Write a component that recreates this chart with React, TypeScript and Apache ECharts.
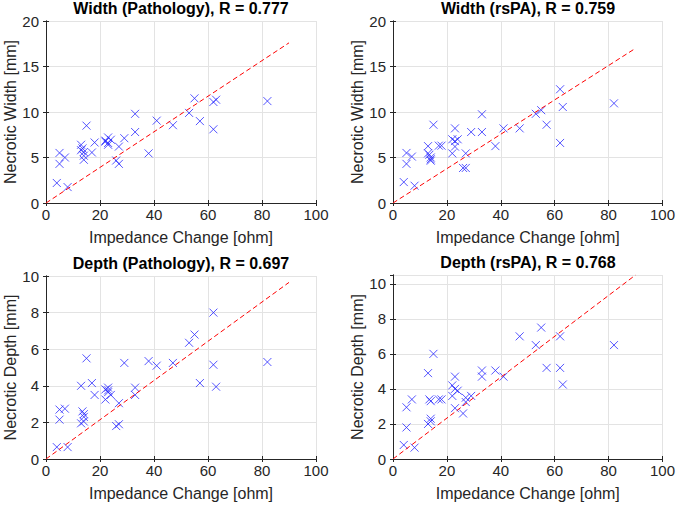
import React, { useEffect, useRef } from "react";
import * as echarts from "echarts";

const impedance = [4, 5, 5, 7, 8, 13, 13, 13.5, 14, 14, 14, 15, 17, 18, 22, 22, 23, 23, 23, 24, 26, 27, 27, 29, 33, 33, 38, 41, 47, 53, 55, 57, 62, 62, 63, 82];
const widthPathology = [2.2, 5.5, 4.3, 5.0, 1.75, 6.4, 5.8, 6.0, 5.6, 5.2, 4.75, 8.5, 5.55, 6.65, 6.75, 6.85, 7.2, 6.4, 6.6, 6.95, 4.67, 6.2, 4.3, 7.12, 9.8, 7.8, 5.45, 9.05, 8.55, 9.9, 11.5, 9.0, 11.1, 8.1, 11.35, 11.2];
const widthRsPA = [2.3, 5.5, 4.3, 5.1, 1.9, 6.25, 5.45, 5.3, 5.0, 4.8, 4.65, 8.6, 6.3, 6.3, 7.0, 5.45, 8.2, 6.2, 6.8, 7.0, 3.85, 5.45, 3.85, 7.8, 9.75, 7.8, 6.25, 8.2, 8.2, 9.8, 10.2, 8.6, 12.5, 6.6, 10.55, 10.95];
const depthPathology = [0.65, 2.7, 2.15, 2.75, 0.65, 4.0, 1.95, 2.6, 2.45, 2.3, 2.05, 5.5, 4.15, 3.5, 3.8, 3.25, 3.9, 3.65, 3.75, 3.5, 1.8, 3.05, 1.9, 5.25, 3.9, 3.5, 5.35, 5.1, 5.25, 6.35, 6.8, 4.15, 8.0, 5.15, 3.95, 5.3];
const depthRsPA = [0.8, 2.95, 1.8, 3.4, 0.65, 4.9, 2.0, 3.4, 3.3, 2.3, 2.15, 6.0, 3.4, 3.4, 4.2, 3.6, 4.7, 2.9, 4.0, 3.9, 2.6, 3.5, 3.25, 3.6, 5.05, 4.7, 5.05, 4.7, 7.0, 6.5, 7.5, 5.2, 7.0, 5.2, 4.25, 6.5];

const fitX = [0, 90];
const fitWidthPathology = [0, 17.6];
const fitWidthRsPA = [0, 17.0];
const fitDepthPathology = [0, 9.65];
const fitDepthRsPA = [0, 10.5];

const titles = [
  "Width (Pathology), R = 0.777",
  "Width (rsPA), R = 0.759",
  "Depth (Pathology), R = 0.697",
  "Depth (rsPA), R = 0.768",
];
const yNames = ["Necrotic Width [mm]", "Necrotic Width [mm]", "Necrotic Depth [mm]", "Necrotic Depth [mm]"];
const xName = "Impedance Change [ohm]";
const xTicks = { min: 0, max: 100, interval: 20 };
const yRanges = [
  { min: 0, max: 20, interval: 5 },
  { min: 0, max: 20, interval: 5 },
  { min: 0, max: 10, interval: 2 },
  { min: 0, max: 10.5, interval: 2 },
];

const FONT = "'Liberation Sans', Arial, Helvetica, sans-serif";
const TXT = "#262626";

export default function App() {
  const ref = useRef<HTMLDivElement>(null);
  useEffect(() => {
    if (!ref.current) return;
    const chart = echarts.init(ref.current, undefined, { renderer: "svg" });
    const ys = [widthPathology, widthRsPA, depthPathology, depthRsPA];
    const fits = [fitWidthPathology, fitWidthRsPA, fitDepthPathology, fitDepthRsPA];
    const grids = [
      { left: 46, top: 21, width: 270, height: 182 },
      { left: 393, top: 21, width: 270, height: 182 },
      { left: 46, top: 276, width: 270, height: 183 },
      { left: 393, top: 275, width: 270, height: 184 },
    ];
    const titleY = [8, 8, 263, 262];

    const xAxis: any[] = [];
    const yAxis: any[] = [];
    const series: any[] = [];
    const graphic: any[] = [];

    grids.forEach((g, i) => {
      xAxis.push({
        type: "value",
        gridIndex: i,
        ...xTicks,
        name: xName,
        nameLocation: "middle",
        nameGap: 26,
        nameTextStyle: { fontFamily: FONT, fontSize: 16, color: TXT },
        axisLine: { show: true, lineStyle: { color: TXT, width: 1 } },
        axisTick: { show: true, inside: true, length: 3, lineStyle: { color: TXT } },
        axisLabel: { fontFamily: FONT, fontSize: 15, color: TXT, margin: 4 },
        splitLine: { show: true, lineStyle: { color: "#e3e3e3", width: 1 } },
      });
      xAxis.push({
        type: "value",
        gridIndex: i,
        position: "top",
        ...xTicks,
        axisLine: { show: true, lineStyle: { color: TXT, width: 1 } },
        axisTick: { show: true, inside: true, length: 3, lineStyle: { color: TXT } },
        axisLabel: { show: false },
        splitLine: { show: false },
      });
      yAxis.push({
        type: "value",
        gridIndex: i,
        ...yRanges[i],
        name: yNames[i],
        nameLocation: "middle",
        nameRotate: 90,
        nameGap: 27,
        nameTextStyle: { fontFamily: FONT, fontSize: 16, color: TXT },
        axisLine: { show: true, lineStyle: { color: TXT, width: 1 } },
        axisTick: { show: true, inside: true, length: 3, lineStyle: { color: TXT } },
        axisLabel: { fontFamily: FONT, fontSize: 15, color: TXT, margin: 7, showMaxLabel: yRanges[i].max % yRanges[i].interval === 0 },
        splitLine: { show: true, lineStyle: { color: "#e3e3e3", width: 1 } },
      });
      yAxis.push({
        type: "value",
        gridIndex: i,
        position: "right",
        ...yRanges[i],
        axisLine: { show: true, lineStyle: { color: TXT, width: 1 } },
        axisTick: { show: true, inside: true, length: 3, lineStyle: { color: TXT } },
        axisLabel: { show: false },
        splitLine: { show: false },
      });
      series.push({
        type: "scatter",
        xAxisIndex: i * 2,
        yAxisIndex: i * 2,
        data: impedance.map((x, k) => [x, ys[i][k]]),
        symbol: "path://M0,0L10,10M10,0L0,10",
        symbolSize: 8,
        itemStyle: { color: "rgba(0,0,0,0)", borderColor: "#2b2bff", borderWidth: 1 },
        silent: true,
        z: 3,
      });
      series.push({
        type: "line",
        xAxisIndex: i * 2,
        yAxisIndex: i * 2,
        data: fitX.map((x, k) => [x, fits[i][k]]),
        symbol: "none",
        lineStyle: { color: "#ff0000", width: 1, type: [5, 3] },
        silent: true,
        clip: true,
        z: 4,
      });
      graphic.push({
        type: "text",
        x: g.left + g.width / 2,
        y: titleY[i],
        style: {
          text: titles[i],
          font: `bold 16px ${FONT}`,
          fill: "#000000",
          textAlign: "center",
          textVerticalAlign: "middle",
        },
      });
    });

    chart.setOption({
      animation: false,
      backgroundColor: "#ffffff",
      grid: grids.map((g) => ({ ...g, show: false, containLabel: false })),
      xAxis,
      yAxis,
      series,
      graphic,
    });
    return () => chart.dispose();
  }, []);
  return <div ref={ref} style={{ position: "fixed", left: 0, top: 0, width: 678, height: 507 }} />;
}
